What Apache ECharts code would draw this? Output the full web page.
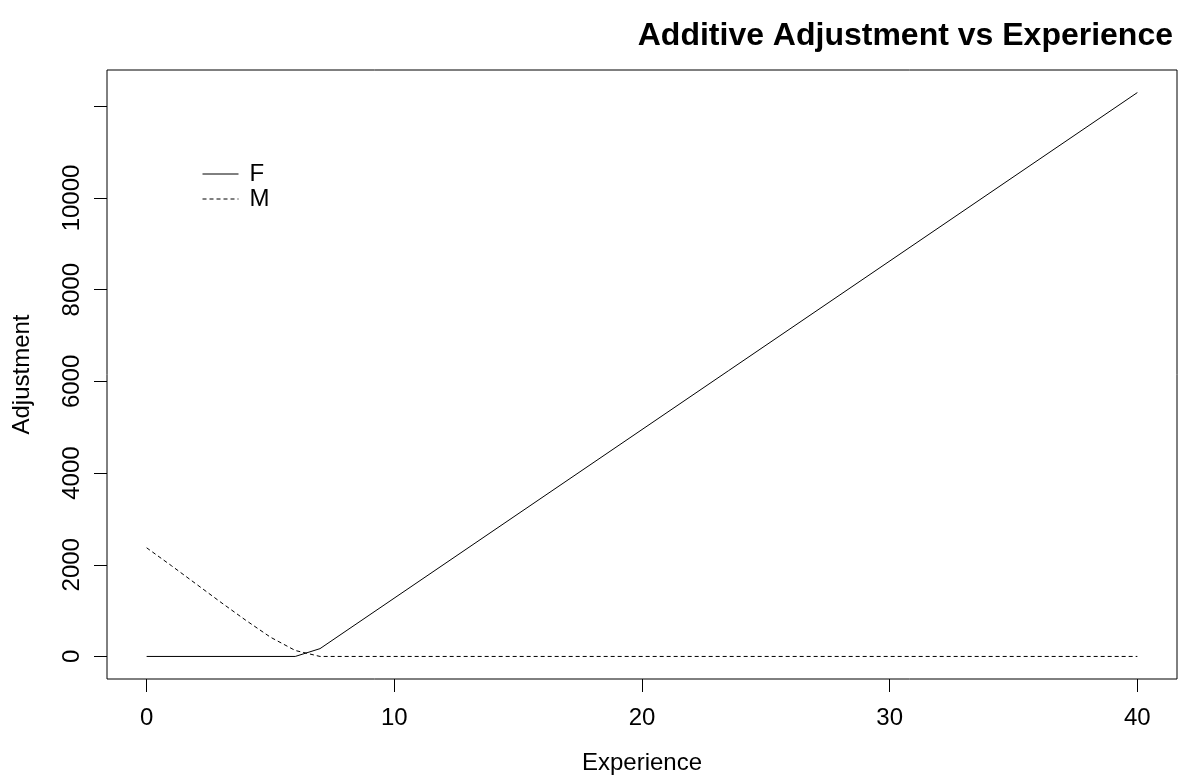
<!DOCTYPE html>
<html>
<head>
<meta charset="utf-8">
<script src="https://cdn.jsdelivr.net/npm/echarts@6/dist/echarts.min.js"></script>
<style>
  html, body { margin: 0; padding: 0; background: #fff; }
  #chart { width: 1184px; height: 777px; }
</style>
</head>
<body>
<div id="chart"></div>
<script>
  // values: [experience, adjustment]
  const femalePoints = [[0, 0], [6, 0], [7, 170], [40, 12300]];
  const malePoints = [
    [0, 2370], [1, 1980], [2, 1580], [3, 1180], [4, 790],
    [5, 420], [6, 130], [7, 0], [40, 0]
  ];
  const xTicks = [0, 10, 20, 30, 40];
  const yTicks = [0, 2000, 4000, 6000, 8000, 10000, 12000];
  const yLabels = [0, 2000, 4000, 6000, 8000, 10000];

  const font = "Liberation Sans, Arial, sans-serif";
  const chart = echarts.init(document.getElementById("chart"));

  chart.setOption({
    animation: false,
    title: {
      text: "Additive Adjustment vs Experience",
      right: 6,
      top: 15,
      textStyle: { fontFamily: font, fontSize: 32, fontWeight: "bold", color: "#000" }
    },
    legend: {
      orient: "vertical",
      left: 197,
      top: 157,
      itemWidth: 36,
      itemHeight: 14,
      itemGap: 1,
      data: ["F", "M"],
      itemStyle: { opacity: 0 },
      lineStyle: { width: 1 },
      textStyle: { fontFamily: font, fontSize: 24, lineHeight: 24, color: "#000", padding: [0, 0, 0, 6] }
    },
    grid: {
      left: 107,
      right: 7,
      top: 70,
      bottom: 98,
      show: true,
      borderColor: "#000",
      borderWidth: 1,
      containLabel: false,
      outerBoundsMode: "none"
    },
    xAxis: {
      type: "value",
      min: -1.6,
      max: 41.6,
      name: "Experience",
      nameLocation: "middle",
      nameGap: 72,
      nameTextStyle: { fontFamily: font, fontSize: 24, color: "#000" },
      axisLine: { show: false, onZero: false },
      axisTick: { show: true, inside: false, length: 13, customValues: xTicks, lineStyle: { color: "#000" } },
      axisLabel: { customValues: xTicks, margin: 27, fontFamily: font, fontSize: 24, color: "#000", formatter: (v) => String(v) },
      splitLine: { show: false }
    },
    yAxis: {
      type: "value",
      min: -492,
      max: 12792,
      name: "Adjustment",
      nameLocation: "middle",
      nameGap: 73,
      nameRotate: 90,
      nameTextStyle: { fontFamily: font, fontSize: 24, color: "#000" },
      axisLine: { show: false, onZero: false },
      axisTick: { show: true, inside: false, length: 13, customValues: yTicks, lineStyle: { color: "#000" } },
      axisLabel: { customValues: yLabels, rotate: 90, margin: 23, fontFamily: font, fontSize: 24, color: "#000", formatter: (v) => String(v) },
      splitLine: { show: false }
    },
    series: [
      {
        name: "F",
        type: "line",
        data: femalePoints,
        symbol: "none",
        lineStyle: { color: "#000", width: 1, type: "solid" },
        itemStyle: { color: "#000" }
      },
      {
        name: "M",
        type: "line",
        data: malePoints,
        symbol: "none",
        lineStyle: { color: "#000", width: 1, type: [4, 3] },
        itemStyle: { color: "#000" }
      }
    ]
  });
</script>
</body>
</html>
